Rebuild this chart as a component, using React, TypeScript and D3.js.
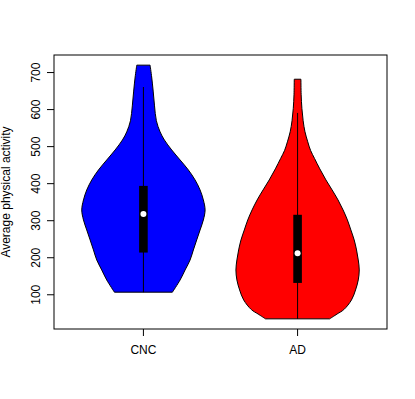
import React from "react";
import * as d3 from "d3";

const groups = ["CNC", "AD"];
const fills = ["#0000ff", "#ff0000"];

// density outline per group: activity value and relative width (0..1)
const cncValues = [107, 140, 167, 194, 221, 248, 275, 302, 329, 356, 383, 410, 437, 464, 491, 518, 540, 570, 610, 650, 688, 720];
const cncDensity = [0.47, 0.595, 0.676, 0.757, 0.81, 0.864, 0.919, 0.972, 1.0, 0.972, 0.919, 0.838, 0.729, 0.595, 0.459, 0.34, 0.27, 0.21, 0.18, 0.158, 0.134, 0.108];
const adValues = [35, 48, 60, 86, 113, 140, 167, 194, 221, 248, 275, 302, 329, 356, 383, 410, 440, 468, 490, 513, 540, 570, 603, 640, 682];
const adDensity = [0.52, 0.64, 0.75, 0.874, 0.94, 0.984, 1.0, 0.984, 0.956, 0.918, 0.864, 0.808, 0.738, 0.656, 0.56, 0.46, 0.36, 0.275, 0.21, 0.165, 0.12, 0.09, 0.07, 0.058, 0.054];

// box stats: [whiskerLow, q1, median, q3, whiskerHigh]
const cncStats = [107, 214, 318, 394, 661];
const adStats = [35, 132, 212, 316, 591];

const yTicks = [100, 200, 300, 400, 500, 600, 700];
const yLabel = "Average physical activity";

const W = 415;
const H = 399;
const left = 54;
const right = 387;
const top = 55;
const bottom = 329;

const App = () => {
  const profiles = [
    cncValues.map((v, i) => ({ v, d: cncDensity[i] })),
    adValues.map((v, i) => ({ v, d: adDensity[i] })),
  ];
  const stats = [cncStats, adStats];

  const lo = d3.min([...cncValues, ...adValues]) as number;
  const hi = d3.max([...cncValues, ...adValues]) as number;
  const pad = (hi - lo) * 0.04;
  const y = d3.scaleLinear().domain([lo - pad, hi + pad]).range([bottom, top]);
  const x = d3.scaleLinear().domain([0.42, 2.58]).range([left, right]);
  const wx = (d: number) => d * 0.4;

  const font = "'Liberation Sans', Arial, sans-serif";

  return (
    <svg
      width={W}
      height={H}
      style={{ position: "absolute", left: 0, top: 0, background: "#fff" }}
      fontFamily={font}
    >
      {groups.map((g, i) => {
        const c = i + 1;
        const area = d3
          .area<{ v: number; d: number }>()
          .y((p) => y(p.v))
          .x0((p) => x(c - wx(p.d)))
          .x1((p) => x(c + wx(p.d)))
          .curve(d3.curveCatmullRom.alpha(0.5));
        const s = stats[i];
        const cx = x(c);
        return (
          <g key={g}>
            <path d={area(profiles[i]) || ""} fill={fills[i]} stroke="#000" strokeWidth={1} />
            <line x1={cx} x2={cx} y1={y(s[0])} y2={y(s[4])} stroke="#000" strokeWidth={1} />
            <rect x={cx - 4.3} width={8.6} y={y(s[3])} height={y(s[1]) - y(s[3])} fill="#000" />
            <circle cx={cx} cy={y(s[2])} r={3} fill="#fff" />
          </g>
        );
      })}

      <rect x={left} y={top} width={right - left} height={bottom - top} fill="none" stroke="#000" strokeWidth={1} />

      {yTicks.map((t) => (
        <g key={t}>
          <line x1={left - 7} x2={left} y1={y(t)} y2={y(t)} stroke="#000" />
          <text
            transform={`translate(40,${y(t)}) rotate(-90)`}
            textAnchor="middle"
            fontSize={12}
          >
            {t}
          </text>
        </g>
      ))}

      {groups.map((g, i) => (
        <g key={g}>
          <line x1={x(i + 1)} x2={x(i + 1)} y1={bottom} y2={bottom + 7} stroke="#000" />
          <text x={x(i + 1)} y={354} textAnchor="middle" fontSize={12}>
            {g}
          </text>
        </g>
      ))}

      <text
        transform={`translate(9.5,${(top + bottom) / 2}) rotate(-90)`}
        textAnchor="middle"
        fontSize={12}
      >
        {yLabel}
      </text>
    </svg>
  );
};

export default App;
